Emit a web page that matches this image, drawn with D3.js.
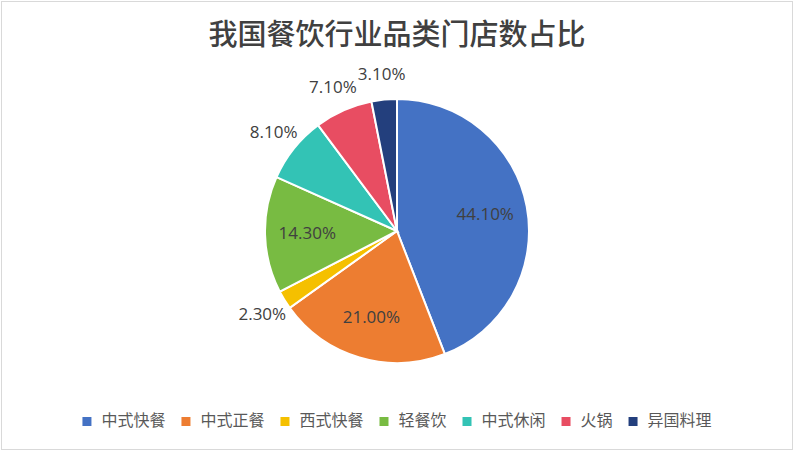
<!DOCTYPE html>
<html>
<head>
<meta charset="utf-8">
<script src="https://cdn.jsdelivr.net/npm/d3@7"></script>
<style>
  body { margin: 0; background: #fff; }
  svg { display: block; }
</style>
</head>
<body>
<div id="chart-area"></div>
<script>
// 我国餐饮行业品类门店数占比
const categories = ["中式快餐", "中式正餐", "西式快餐", "轻餐饮", "中式休闲", "火锅", "异国料理"];
const shares = [44.1, 21.0, 2.3, 14.3, 8.1, 7.1, 3.1];
const colors = ["#4472C4", "#ED7D31", "#F5C000", "#78BB42", "#33C3B5", "#E84D62", "#233F7D"];

const width = 794, height = 452;
const cx = 397, cy = 231, radius = 132;

const data = categories.map(function (c, i) {
    return { name: c, value: shares[i], color: colors[i] };
});

let svg = d3.select("#chart-area").append("svg")
    .attr("width", width)
    .attr("height", height);

svg.append("rect")
    .attr("x", 1.5).attr("y", 1.5)
    .attr("width", width - 3).attr("height", height - 4)
    .attr("fill", "#fff")
    .attr("stroke", "#d9d9d9");

svg.append("text")
    .attr("x", 397)
    .attr("y", 45)
    .attr("text-anchor", "middle")
    .attr("font-family", "'Noto Sans CJK SC'")
    .attr("font-size", 29)
    .attr("font-weight", 500)
    .attr("fill", "#404040")
    .text("我国餐饮行业品类门店数占比");

const pie = d3.pie()
    .sort(null)
    .value(function (d) { return d.value; });

const arc = d3.arc().innerRadius(0).outerRadius(radius);
const inArc = d3.arc().innerRadius(radius * 0.68).outerRadius(radius * 0.68);
const outArc = d3.arc().innerRadius(radius + 26).outerRadius(radius + 26);

const g = svg.append("g").attr("transform", "translate(" + cx + "," + cy + ")");
const arcs = pie(data);

g.selectAll("path")
    .data(arcs)
    .enter()
    .append("path")
    .attr("d", arc)
    .attr("fill", function (d) { return d.data.color; })
    .attr("stroke", "#fff")
    .attr("stroke-width", 2);

g.selectAll("text.lbl")
    .data(arcs)
    .enter()
    .append("text")
    .attr("class", "lbl")
    .attr("transform", function (d) {
        const p = d.data.value < 10 ? outArc.centroid(d) : inArc.centroid(d);
        return "translate(" + p[0] + "," + p[1] + ")";
    })
    .attr("text-anchor", "middle")
    .attr("dy", "0.35em")
    .attr("font-family", "'Open Sans', 'Noto Sans'")
    .attr("font-size", 17)
    .attr("fill", "#404040")
    .text(function (d) { return d.data.value.toFixed(2) + "%"; });

// legend
const legend = svg.append("g");
let items = legend.selectAll("g")
    .data(data)
    .enter()
    .append("g");

items.append("rect")
    .attr("width", 9).attr("height", 9)
    .attr("y", -9)
    .attr("fill", function (d) { return d.color; });

items.append("text")
    .attr("x", 19)
    .attr("font-family", "'Noto Sans CJK SC'")
    .attr("font-size", 16)
    .attr("fill", "#595959")
    .text(function (d) { return d.name; });

let xPos = 0;
const gap = 16;
items.each(function () {
    const w = 19 + d3.select(this).select("text").node().getComputedTextLength();
    d3.select(this).attr("transform", "translate(" + xPos + ",0)");
    xPos += w + gap;
});
const totalW = xPos - gap;
legend.attr("transform", "translate(" + ((width - totalW) / 2) + ",426)");
</script>
</body>
</html>
